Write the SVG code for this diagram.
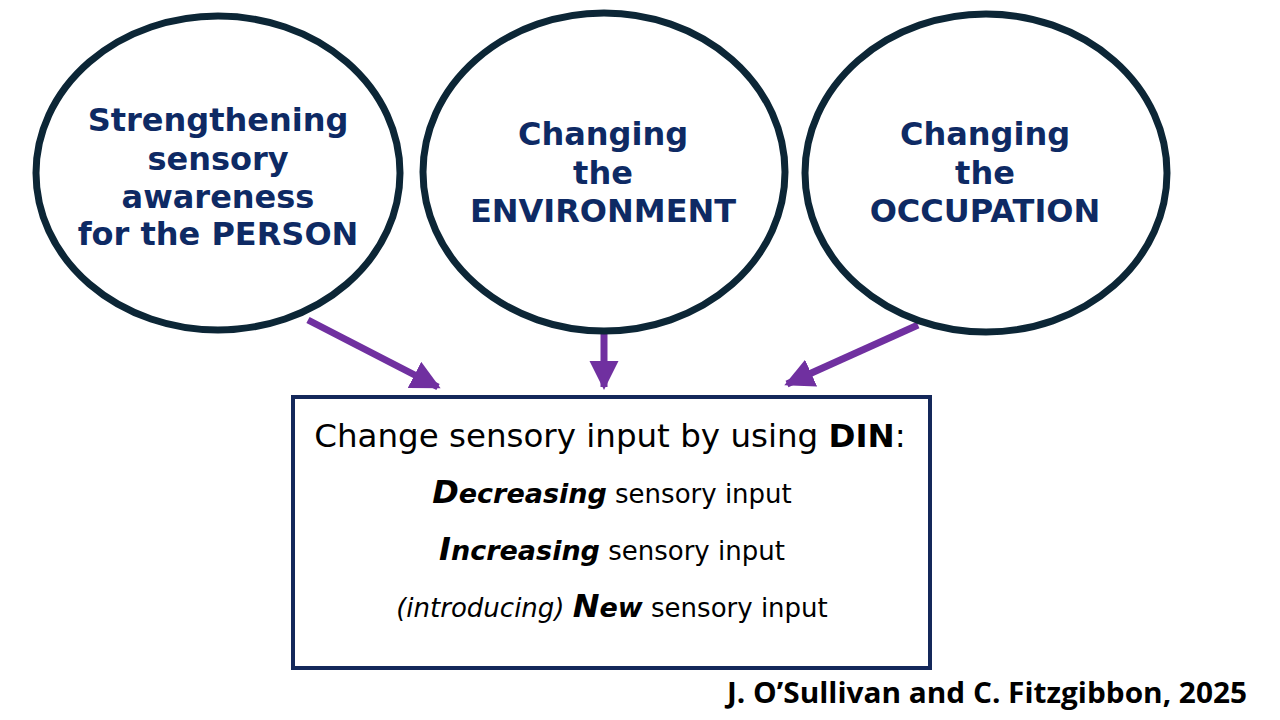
<svg xmlns="http://www.w3.org/2000/svg" width="1280" height="720" viewBox="0 0 1280 720">
<defs>
<style>
.circ{fill:#fff;stroke:#0c2636;stroke-width:7}
.ct{font-family:"DejaVu Sans",Verdana,sans-serif;font-weight:bold;font-size:32px;fill:#0e2a64;text-anchor:middle}
.box{fill:#fff;stroke:#14285a;stroke-width:4}
.bt{font-family:"DejaVu Sans",Tahoma,sans-serif;fill:#000;text-anchor:middle}
.conn{stroke:#7030a0;stroke-width:7;fill:none}
.cite{font-family:"Open Sans","Noto Sans",sans-serif;font-weight:bold;font-size:28px;fill:#000}
</style>
<marker id="ah" viewBox="0 0 10 10" refX="9" refY="5" markerWidth="4.2" markerHeight="4.2" markerUnits="strokeWidth" orient="auto">
<path d="M0,0 L10,5 L0,10 z" fill="#7030a0"/>
</marker>
</defs>
<rect width="1280" height="720" fill="#fff"/>
<g id="connectors">
<line class="conn" x1="308" y1="320" x2="438" y2="387" marker-end="url(#ah)"/>
<line class="conn" x1="604" y1="334" x2="604" y2="387" marker-end="url(#ah)"/>
<line class="conn" x1="918" y1="325" x2="787" y2="384" marker-end="url(#ah)"/>
</g>
<g id="node-person">
<ellipse class="circ" cx="218" cy="173" rx="182" ry="157"/>
<text class="ct" x="218" y="131">Strengthening</text>
<text class="ct" x="218" y="170">sensory</text>
<text class="ct" x="218" y="208">awareness</text>
<text class="ct" x="218" y="245">for the PERSON</text>
</g>
<g id="node-environment">
<ellipse class="circ" cx="604" cy="172" rx="181" ry="159"/>
<text class="ct" x="603" y="145">Changing</text>
<text class="ct" x="603" y="184">the</text>
<text class="ct" x="603" y="222">ENVIRONMENT</text>
</g>
<g id="node-occupation">
<ellipse class="circ" cx="986" cy="173" rx="181" ry="159"/>
<text class="ct" x="985" y="145">Changing</text>
<text class="ct" x="985" y="184">the</text>
<text class="ct" x="985" y="222">OCCUPATION</text>
</g>
<g id="node-din">
<rect class="box" x="293" y="397" width="637" height="271"/>
<text class="bt" x="610" y="447" font-size="32.5">Change sensory input by using <tspan font-weight="bold">DIN</tspan>:</text>
<text class="bt" x="612" y="503" font-size="26"><tspan font-weight="bold" font-style="italic" font-size="32">D</tspan><tspan font-weight="bold" font-style="italic" font-size="27">ecreasing</tspan> sensory input</text>
<text class="bt" x="612" y="560" font-size="26"><tspan font-weight="bold" font-style="italic" font-size="32">I</tspan><tspan font-weight="bold" font-style="italic" font-size="27">ncreasing</tspan> sensory input</text>
<text class="bt" x="612" y="617" font-size="26"><tspan font-style="italic">(introducing)</tspan> <tspan font-weight="bold" font-style="italic" font-size="32">N</tspan><tspan font-weight="bold" font-style="italic" font-size="27">ew</tspan> sensory input</text>
</g>
<text class="cite" x="727" y="703" textLength="520" lengthAdjust="spacingAndGlyphs">J. O’Sullivan and C. Fitzgibbon, 2025</text>
</svg>
